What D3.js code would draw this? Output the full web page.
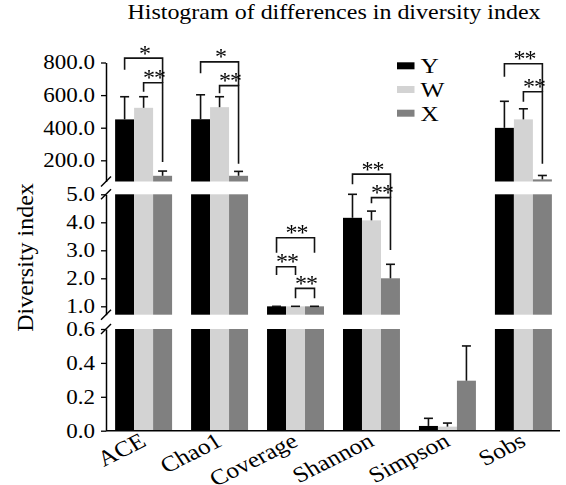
<!DOCTYPE html>
<html>
<head>
<meta charset="utf-8">
<script src="https://cdn.jsdelivr.net/npm/d3@7"></script>
<style>
  body { margin: 0; background: #fff; }
  svg { display: block; font-family: "Liberation Serif", "Times New Roman", serif; }
  text { fill: #000; }
</style>
</head>
<body>
<div class="canvas"></div>
<script>
const WIDTH = 566;
const HEIGHT = 485;

// data
const categories = ['ACE', 'Chao1', 'Coverage', 'Shannon', 'Simpson', 'Sobs'];
const seriesNames = ['Y', 'W', 'X'];
const meanY = [451, 452, 0.998, 4.16, 0.028, 399];
const meanW = [522, 526, 0.998, 4.07, 0.024, 451];
const meanX = [105, 105, 0.999, 2.0, 0.295, 83];
const sdY = [139, 150, 0.001, 0.84, 0.045, 163];
const sdW = [68, 64, 0.001, 0.33, 0.021, 65];
const sdX = [29, 27, 0.001, 0.5, 0.205, 24];
const topTicks = [200, 400, 600, 800];
const midTicks = [1, 2, 3, 4, 5];
const lowTicks = [0, 0.2, 0.4, 0.6];

// significance brackets: level and leg ends in the units of their segment
const brackets = [
  { cat: 'ACE', from: 'Y', to: 'X', level: 827, left: 755, right: 676, label: '*' },
  { cat: 'ACE', from: 'W', to: 'X', level: 676, left: 621, right: 189, label: '**' },
  { cat: 'Chao1', from: 'Y', to: 'X', level: 804, left: 734, right: 658, label: '*' },
  { cat: 'Chao1', from: 'W', to: 'X', level: 658, left: 611, right: 179, label: '**' },
  { cat: 'Coverage', from: 'Y', to: 'X', level: 3.45, left: 2.91, right: 2.91, label: '**' },
  { cat: 'Coverage', from: 'Y', to: 'W', level: 2.41, left: 2.12, right: 2.12, label: '**' },
  { cat: 'Coverage', from: 'W', to: 'X', level: 1.64, left: 1.29, right: 1.29, label: '**' },
  { cat: 'Shannon', from: 'Y', to: 'X', level: 5.72, left: 5.36, right: 4.88, label: '**' },
  { cat: 'Shannon', from: 'W', to: 'X', level: 4.88, left: 4.68, right: 3.01, label: '**' },
  { cat: 'Sobs', from: 'Y', to: 'X', level: 792, left: 713, right: 621, label: '**' },
  { cat: 'Sobs', from: 'W', to: 'X', level: 621, left: 559, right: 179, label: '**' }
];

const colors = { Y: '#000000', W: '#d3d3d3', X: '#808080' };
const means = [meanY, meanW, meanX];
const sds = [sdY, sdW, sdX];
const STRETCH = 1.15; // text in the original is a little wide

const rows = categories.flatMap((c, i) => seriesNames.map((s, j) => ({
  cat: c, series: s, mean: means[j][i], sd: sds[j][i]
})));

const svg = d3.select('.canvas')
  .append('svg')
    .attr('width', WIDTH)
    .attr('height', HEIGHT);

const axisX = 106;

// three stacked segments of the broken y axis
const segments = [
  { scale: d3.scaleLinear().domain([70, 800]).range([181.5, 62.5]), ticks: topTicks },
  { scale: d3.scaleLinear().domain([0.7, 5]).range([314.7, 194.3]), ticks: midTicks },
  { scale: d3.scaleLinear().domain([0, 0.6]).range([430.7, 329]), ticks: lowTicks }
];

const x = d3.scaleBand()
  .domain(categories)
  .range([axisX, 561])
  .paddingInner(0.25)
  .paddingOuter(0.12);

const sub = d3.scaleBand()
  .domain(seriesNames)
  .range([0, x.bandwidth()]);

const cx = (cat, s) => x(cat) + sub(s) + sub.bandwidth() / 2;

// bars, clipped to each segment
segments.forEach(seg => {
  const [lo, hi] = seg.scale.domain();
  const g = svg.append('g');
  g.selectAll('rect')
    .data(rows.filter(d => d.mean > lo))
    .enter()
    .append('rect')
      .attr('x', d => x(d.cat) + sub(d.series))
      .attr('width', sub.bandwidth())
      .attr('y', d => seg.scale(Math.min(d.mean, hi)))
      .attr('height', d => seg.scale(lo) - seg.scale(Math.min(d.mean, hi)))
      .attr('fill', d => colors[d.series]);

  // error bars where the mean sits in this segment
  const eb = g.selectAll('g.err')
    .data(rows.filter(d => d.mean > lo && d.mean <= hi))
    .enter()
    .append('g')
      .attr('stroke', '#111')
      .attr('stroke-width', 1.6);
  eb.append('line')
    .attr('x1', d => cx(d.cat, d.series))
    .attr('x2', d => cx(d.cat, d.series))
    .attr('y1', d => seg.scale(d.mean))
    .attr('y2', d => seg.scale(d.mean + d.sd));
  eb.append('line')
    .attr('x1', d => cx(d.cat, d.series) - 4.5)
    .attr('x2', d => cx(d.cat, d.series) + 4.5)
    .attr('y1', d => seg.scale(d.mean + d.sd))
    .attr('y2', d => seg.scale(d.mean + d.sd));

  // axis for this segment
  const axisG = svg.append('g')
    .attr('transform', `translate(${axisX},0)`)
    .call(d3.axisLeft(seg.scale)
      .tickValues(seg.ticks)
      .tickSize(5)
      .tickSizeOuter(0)
      .tickFormat(d3.format('.1f')));
  axisG.select('.domain').attr('stroke-width', 1.5);
  axisG.selectAll('.tick line').attr('stroke-width', 1.3);
  axisG.selectAll('.tick text')
    .attr('x', null)
    .attr('transform', `translate(-11,0) scale(${STRETCH},1)`)
    .attr('font-size', 20)
    .attr('font-family', '"Liberation Serif", serif')
    .attr('fill', '#000');

  // break marks at the segment ends
  [lo, hi].forEach(v => {
    if (seg.scale.domain()[0] === 0 && v === lo) return;
    if (v === 800) return;
    const y = seg.scale(v);
    svg.append('line')
      .attr('x1', axisX - 5).attr('y1', y + 5)
      .attr('x2', axisX + 5).attr('y2', y - 5)
      .attr('stroke', '#000')
      .attr('stroke-width', 1.4);
  });
});

// x baseline
const low = segments[2].scale;
svg.append('line')
  .attr('x1', axisX).attr('x2', 560)
  .attr('y1', low(0)).attr('y2', low(0))
  .attr('stroke', '#000')
  .attr('stroke-width', 1.5);

// category labels
svg.append('g')
  .selectAll('text')
  .data(categories)
  .enter()
  .append('text')
    .attr('transform', d => `translate(${x(d) + x.bandwidth() / 2 + 4},445) scale(${STRETCH},1) rotate(-30)`)
    .attr('text-anchor', 'end')
    .attr('font-size', 22)
    .text(d => d);

// significance brackets
const segOf = cat => (cat === 'Coverage' || cat === 'Shannon') ? segments[1].scale : segments[0].scale;
const bg = svg.append('g').attr('opacity', 0.99);
brackets.forEach(b => {
  const s = segOf(b.cat);
  const x1 = cx(b.cat, b.from);
  const x2 = cx(b.cat, b.to);
  bg.append('path')
    .attr('d', `M${x1},${s(b.left)}V${s(b.level)}H${x2}V${s(b.right)}`)
    .attr('fill', 'none')
    .attr('stroke', '#111')
    .attr('stroke-width', 1.6);
  bg.append('text')
    .attr('transform', `translate(${(x1 + x2) / 2 + 1},${s(b.level) + 2.5})`)
    .attr('text-anchor', 'middle')
    .attr('font-size', 24)
    .attr('letter-spacing', -1)
    .attr('fill', '#000')
    .text(b.label);
});

// legend
const legend = svg.append('g');
seriesNames.forEach((s, i) => {
  const y = 73.3 + i * 23.7;
  legend.append('rect')
    .attr('x', 397).attr('y', y - 11)
    .attr('width', 17.5).attr('height', 7)
    .attr('fill', colors[s]);
  legend.append('text')
    .attr('transform', `translate(420.5,${y}) scale(${STRETCH},1)`)
    .attr('font-size', 22)
    .text(s);
});

// title and y label
svg.append('text')
  .attr('transform', 'translate(334,18.5) scale(1.2,1)')
  .attr('text-anchor', 'middle')
  .attr('font-size', 20)
  .text('Histogram of differences in diversity index');

svg.append('text')
  .attr('transform', 'translate(32.5,257.5) rotate(-90)')
  .attr('text-anchor', 'middle')
  .attr('font-size', 24)
  .text('Diversity index');
</script>
</body>
</html>
